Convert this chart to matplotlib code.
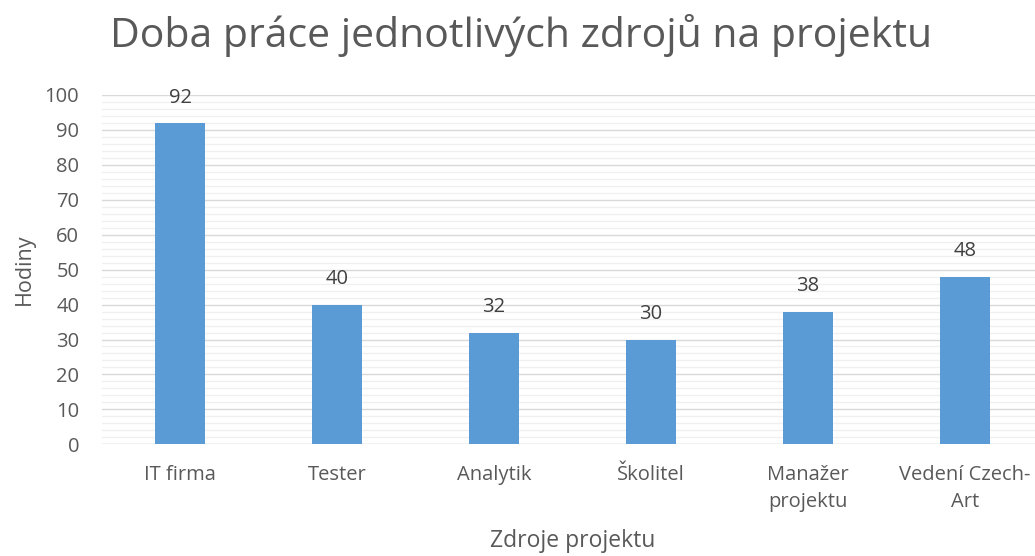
import matplotlib
matplotlib.use("Agg")
import matplotlib.pyplot as plt
from matplotlib.ticker import MultipleLocator

categories = ["IT firma", "Tester", "Analytik", "Školitel", "Manažer\nprojektu", "Vedení Czech-\nArt"]
values = [92, 40, 32, 30, 38, 48]

title = "Doba práce jednotlivých zdrojů na projektu"
xlabel = "Zdroje projektu"
ylabel = "Hodiny"

plt.rcParams['font.family'] = ['Open Sans', 'DejaVu Sans']
text_color = "#595959"
bar_color = "#5B9BD5"

fig = plt.figure(figsize=(10.35, 5.56), dpi=100)
ax = fig.add_axes([101.5/1035, 1-444.3/556, 942/1035, (444.3-95)/556])

x = list(range(len(categories)))
ax.bar(x, values, width=0.32, color=bar_color, zorder=3)
for xi, v in zip(x, values):
    ax.annotate(f"{v}", (xi, v), xytext=(0, 11), textcoords="offset points",
                ha="center", va="bottom", fontsize=14.5, color="#404040")

ax.set_xlim(-0.5, len(categories) - 0.5)
ax.set_ylim(0, 100)
ax.yaxis.set_major_locator(MultipleLocator(10))
ax.yaxis.set_minor_locator(MultipleLocator(2))
ax.grid(axis="y", which="major", color="#D9D9D9", linewidth=1.0, zorder=0)
ax.grid(axis="y", which="minor", color="#F0F0F0", linewidth=1.0, zorder=0)
for s in ax.spines.values():
    s.set_visible(False)
ax.axhline(0, color="#D9D9D9", linewidth=1.0, zorder=2)

ax.set_xticks(x)
ax.set_xticklabels(categories, fontsize=14.5, color=text_color, linespacing=1.45)
ax.tick_params(axis="x", length=0, pad=15)
ax.tick_params(axis="y", which="both", length=0, pad=16, labelsize=14.5, labelcolor=text_color)

ax.set_xlabel(xlabel, fontsize=16.5, color=text_color, labelpad=12)
ax.set_ylabel(ylabel, fontsize=15.5, color=text_color, labelpad=7)

fig.text(521/1035, 1-47/556, title, ha="center", va="baseline", fontsize=29.5, color=text_color)

fig.savefig("out.png", dpi=100)
